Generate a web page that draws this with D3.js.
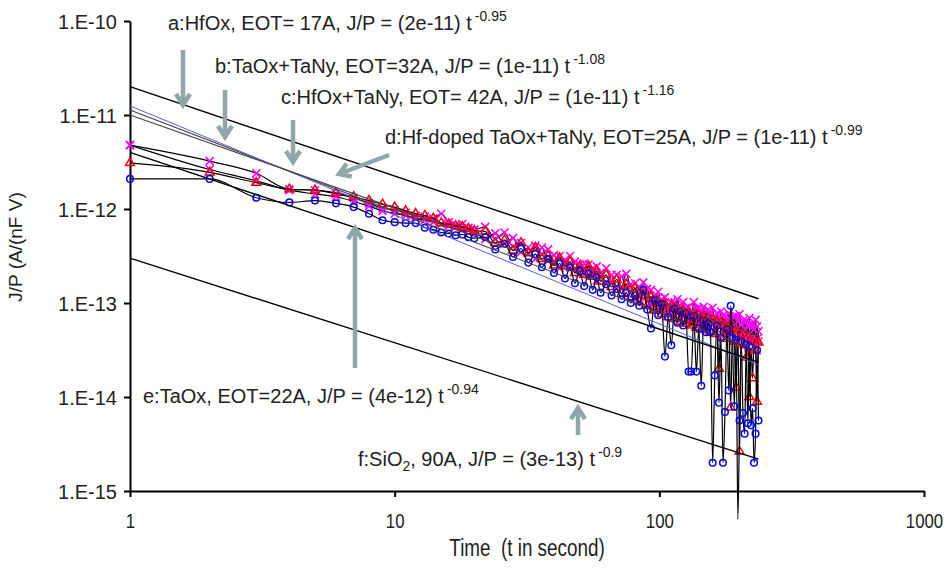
<!DOCTYPE html>
<html lang="en">
<head>
<meta charset="utf-8">
<title>J/P relaxation vs time</title>
<script src="https://cdn.jsdelivr.net/npm/d3@7"></script>
<style>
  body { margin: 0; background: #fff; }
  svg text { font-family: "Liberation Sans", Arial, sans-serif; fill: #222; white-space: pre; }
</style>
</head>
<body>
<svg id="chart" width="947" height="568"></svg>
<script>
////////////////////////////////////////////////// DATA
// sample times (s)
var times = [1,2,3,4,5,6,7,8,9,10,11,12,13,14,15,16,17,18,19,20,
  22,24,26,28,30,32,34,36,38,40,42,44,46,48,50,52,54,56,58,60,
  63,66,69,72,75,78,81,84,87,90,93,96,99,102,105,108,111,114,117,120,
  123,126,129,132,135,138,141,144,147,150,153,156,159,162,165,168,171,174,177,180,
  183,186,189,192,195,198,201,204,207,210,213,216,219,222,225,228,231,234,237];

// log10 of J/P
var logA = [-11.32,-11.49,-11.62,-11.79,-11.80,-11.84,-11.88,-11.94,-11.99,-12.01,-12.04,-12.07,-12.08,-12.10,-12.05,-12.14,-12.17,-12.16,-12.20,-12.22,
  -12.19,-12.32,-12.25,-12.40,-12.36,-12.47,-12.39,-12.48,-12.43,-12.58,-12.50,-12.59,-12.50,-12.64,-12.59,-12.68,-12.59,-12.68,-12.61,-12.72,
  -12.63,-12.76,-12.70,-12.83,-12.69,-12.83,-12.79,-12.92,-12.78,-12.93,
  -12.86,-13.00,-12.88,-13.03,-12.94,-13.08,-12.99,-13.12,-12.96,-13.08,
  -12.99,-13.12,-13.04,-13.17,-12.99,-13.14,-13.06,-13.18,-13.04,-13.18,
  -13.07,-13.20,-13.05,-13.20,-13.11,-13.25,-13.09,-13.21,-13.14,-13.25,
  -13.11,-13.24,-13.15,-13.28,-13.14,-13.27,-13.12,-13.27,-13.19,-13.32,
  -13.19,-13.33,-13.16,-13.33,-13.23,-13.37,-13.18,-13.38,-13.30];

var logD = [-11.32,-11.58,-11.70,-11.80,-11.84,-11.87,-11.92,-11.97,-12.02,-12.05,-12.07,-12.10,-12.12,-12.14,-12.16,-12.18,-12.19,-12.21,-12.23,-12.24,
  -12.32,-12.26,-12.37,-12.31,-12.46,-12.41,-12.53,-12.41,-12.55,-12.49,-12.63,-12.54,-12.62,-12.56,-12.68,-12.58,-12.70,-12.63,-12.76,-12.68,
  -12.78,-12.70,-12.84,-12.72,-12.85,-12.80,-12.94,-12.83,-12.95,-12.85,
  -13.01,-12.93,-13.05,-12.96,-13.11,-13.02,-13.11,-12.99,-13.11,-13.05,
  -13.15,-13.05,-13.19,-13.09,-13.17,-13.06,-13.21,-13.10,-13.24,-13.09,
  -13.23,-13.11,-13.23,-13.14,-13.28,-13.16,-13.25,-13.13,-13.29,-13.19,
  -13.30,-13.17,-13.29,-13.15,-13.31,-13.20,-13.35,-13.23,-13.32,-13.21,
  -13.36,-13.24,-13.38,-13.23,-13.38,-13.28,-13.41,-13.25,-13.41];

var logB = [-11.51,-11.61,-11.72,-11.79,-11.80,-11.83,-11.87,-11.91,-11.95,-11.98,-12.02,-12.05,-12.07,-12.10,-12.15,-12.16,-12.18,-12.19,-12.21,-12.23,
  -12.24,-12.36,-12.33,-12.44,-12.36,-12.47,-12.41,-12.53,-12.50,-12.60,-12.52,-12.61,-12.56,-12.68,-12.61,-12.70,-12.61,-12.72,-12.66,-12.77,
  -12.70,-12.83,-12.75,-12.90,-12.80,-12.94,-12.84,-12.99,-12.88,-13.03,
  -12.93,-13.08,-12.98,-13.12,-13.01,-13.15,-13.03,-13.17,-13.05,-13.20,
  -13.08,-13.22,-13.10,-13.24,-13.12,-13.26,-13.13,-13.28,-13.15,-13.29,
  -13.17,-13.31,-13.18,-13.33,-13.20,-13.70,-13.21,-13.36,-13.23,-13.38,
  -13.25,-14.11,-13.27,-13.41,-13.90,-13.30,-14.58,-13.43,-13.33,-13.45,
  -13.58,-13.36,-14.00,-13.48,-13.80,-13.39,-13.51,-14.05,-13.42];

var logC = [-11.68,-11.68,-11.88,-11.93,-11.91,-11.94,-11.98,-12.05,-12.12,-12.14,-12.15,-12.15,-12.20,-12.22,-12.25,-12.26,-12.28,-12.27,-12.30,-12.31,
  -12.30,-12.43,-12.37,-12.51,-12.42,-12.57,-12.48,-12.62,-12.53,-12.68,-12.58,-12.74,-12.62,-12.79,-12.66,-12.82,-12.69,-12.86,-12.73,-12.89,
  -12.80,-12.92,-12.85,-12.96,-12.89,-13.00,-12.92,-13.03,-12.86,-13.07,
  -13.27,-12.97,-13.13,-13.01,-13.57,-13.15,-13.45,-13.06,-13.21,-13.09,
  -13.24,-13.11,-13.73,-13.73,-13.14,-13.73,-13.27,-13.88,-13.18,-13.31,
  -13.22,-13.31,-14.70,-13.77,-13.24,-14.06,-13.37,-14.70,-14.16,-13.28,
  -13.93,-13.03,-13.37,-14.10,-13.39,-15.30,-14.25,-13.41,-14.17,-14.39,
  -13.44,-14.28,-13.46,-14.30,-14.12,-14.70,-14.39,-13.50,-14.25];

// power-law fits J/P = k * t^n
var fitNames = ["a", "b", "c", "d", "e", "f"];
var fitK = [2e-11, 1.13e-11, 1.25e-11, 1e-11, 4e-12, 3e-13];
var fitN = [-0.95, -1.08, -1.16, -0.99, -0.94, -0.9];
var fitTEnd = 237;

var xTicks = [1, 10, 100, 1000];
var xTickLabels = ["1", "10", "100", "1000"];
var yTicks = [1e-15, 1e-14, 1e-13, 1e-12, 1e-11, 1e-10];
var yTickLabels = ["1.E-15", "1.E-14", "1.E-13", "1.E-12", "1.E-11", "1.E-10"];

// annotation texts
var notes = [
  {pre: "a:HfOx, EOT= 17A, J/P = (2e-11) t", sup: "-0.95"},
  {pre: "b:TaOx+TaNy, EOT=32A, J/P = (1e-11) t", sup: "-1.08"},
  {pre: "c:HfOx+TaNy, EOT= 42A, J/P = (1e-11) t", sup: "-1.16"},
  {pre: "d:Hf-doped TaOx+TaNy, EOT=25A, J/P = (1e-11) t", sup: "-0.99"},
  {pre: "e:TaOx, EOT=22A, J/P = (4e-12) t", sup: "-0.94"},
  {pre: "f:SiO", sub: "2", post: ", 90A, J/P = (3e-13) t", sup: "-0.9"}
];

////////////////////////////////////////////////// LAYOUT
var notePos = [[168, 30], [215, 73], [281, 104], [385, 144], [143, 403], [358, 466]];
// arrows: [x0, y0, x1(tip), y1(tip)]
var arrows = [[183, 50, 183, 105], [225, 90, 225, 137], [293, 120, 293, 162],
              [389, 155, 339, 174], [355, 368, 355, 228], [578, 435, 578, 408]];

var svg = d3.select("#chart");

var x = d3.scaleLog().domain([1, 1000]).range([130, 924]);
var y = d3.scaleLog().domain([1e-15, 1e-10]).range([491, 21]);

////////////////////////////////////////////////// AXES
var yAxis = svg.append("g")
    .attr("transform", "translate(130,0)")
    .call(d3.axisLeft(y).tickValues(yTicks)
      .tickFormat(function(d, i) { return yTickLabels[i]; })
      .tickSize(6).tickSizeOuter(0).tickPadding(7));
yAxis.selectAll("text").attr("font-size", 20).attr("font-family", null).attr("dy", "0.36em");

var xAxis = svg.append("g")
    .attr("transform", "translate(0,491)")
    .call(d3.axisBottom(x).tickValues(xTicks)
      .tickFormat(function(d, i) { return xTickLabels[i]; })
      .tickSize(6).tickSizeOuter(0).tickPadding(16));
// the x labels are set in a condensed face
xAxis.selectAll("text").attr("font-size", 21).attr("font-family", null)
    .attr("transform", "scale(0.8,1)");

svg.selectAll(".domain").attr("stroke", "#000").attr("stroke-width", 2);
svg.selectAll(".tick line").attr("stroke", "#000").attr("stroke-width", 2);

svg.append("text")
    .attr("transform", "translate(22,247) rotate(-90)")
    .attr("text-anchor", "middle")
    .attr("font-size", 19)
    .text("J/P (A/(nF V)");

svg.append("g")
    .attr("transform", "translate(527,556) scale(0.82,1)")
  .append("text")
    .attr("text-anchor", "middle")
    .attr("font-size", 23)
    .text("Time  (t in second)");

////////////////////////////////////////////////// DATA MARKS
function rows(logs) {
  return times.map(function(t, i) { return {t: t, v: Math.pow(10, logs[i])}; });
}
var line = d3.line()
    .x(function(d) { return x(d.t); })
    .y(function(d) { return y(d.v); })
    .curve(d3.curveMonotoneX);

var series = [
  {rows: rows(logA), marker: "x"},
  {rows: rows(logD), marker: "x"},
  {rows: rows(logB), marker: "tri"},
  {rows: rows(logC), marker: "circle"}
];

var gData = svg.append("g");
series.forEach(function(s) {
  var g = gData.append("g");
  g.append("path")
    .attr("d", line(s.rows))
    .attr("fill", "none")
    .attr("stroke", "#000")
    .attr("stroke-width", 1.2);
  // markers outside the plot area are not drawn
  var m = g.selectAll("g.m").data(s.rows.filter(function(d) { return d.v >= 1e-15; })).join("g")
    .attr("transform", function(d) { return "translate(" + x(d.t) + "," + y(d.v) + ")"; });
  if (s.marker === "x") {
    m.append("path").attr("d", "M-4,-4L4,4M-4,4L4,-4")
      .attr("stroke", "#ff00ff").attr("stroke-width", 1.6).attr("fill", "none");
  } else if (s.marker === "tri") {
    m.append("path").attr("d", d3.symbol(d3.symbolTriangle, 34)())
      .attr("stroke", "#ff0000").attr("stroke-width", 1.5).attr("fill", "none");
  } else {
    m.append("circle").attr("r", 3.3)
      .attr("stroke", "#0000ff").attr("stroke-width", 1.5).attr("fill", "none");
  }
});

////////////////////////////////////////////////// FIT LINES
var fitColor = ["#000", "#444", "#5a5ae6", "#444", "#000", "#000"];
var fitWidth = [1.4, 1.1, 1, 1.1, 1.4, 1.4];
fitNames.forEach(function(n, i) {
  var pts = [1, fitTEnd].map(function(t) { return {t: t, v: fitK[i] * Math.pow(t, fitN[i])}; });
  svg.append("path")
    .attr("d", d3.line().x(function(d) { return x(d.t); }).y(function(d) { return y(d.v); })(pts))
    .attr("fill", "none")
    .attr("stroke", fitColor[i])
    .attr("stroke-width", fitWidth[i]);
});

////////////////////////////////////////////////// ARROWS
var arrowColor = "#8fa6aa";
arrows.forEach(function(a) {
  var ang = Math.atan2(a[3] - a[1], a[2] - a[0]);
  var hl = 11, hw = 7;
  var bx = a[2] - hl * Math.cos(ang), by = a[3] - hl * Math.sin(ang);
  var px = -Math.sin(ang) * hw, py = Math.cos(ang) * hw;
  svg.append("path")
    .attr("d", "M" + a[0] + "," + a[1] + "L" + a[2] + "," + a[3] +
      "M" + (bx + px) + "," + (by + py) + "L" + a[2] + "," + a[3] + "L" + (bx - px) + "," + (by - py))
    .attr("fill", "none")
    .attr("stroke", arrowColor)
    .attr("stroke-width", 4.5)
    .attr("stroke-linejoin", "miter");
});

////////////////////////////////////////////////// ANNOTATIONS
notes.forEach(function(n, i) {
  var t = svg.append("text")
    .attr("x", notePos[i][0]).attr("y", notePos[i][1])
    .attr("font-size", 20);
  t.append("tspan").text(n.pre);
  if (n.sub) {
    t.append("tspan").attr("font-size", 14).attr("dy", 5).text(n.sub);
    t.append("tspan").attr("dy", -5).text(n.post);
  }
  t.append("tspan").attr("font-size", 14).attr("dx", 3).attr("dy", -9).text(n.sup);
});
</script>
</body>
</html>
